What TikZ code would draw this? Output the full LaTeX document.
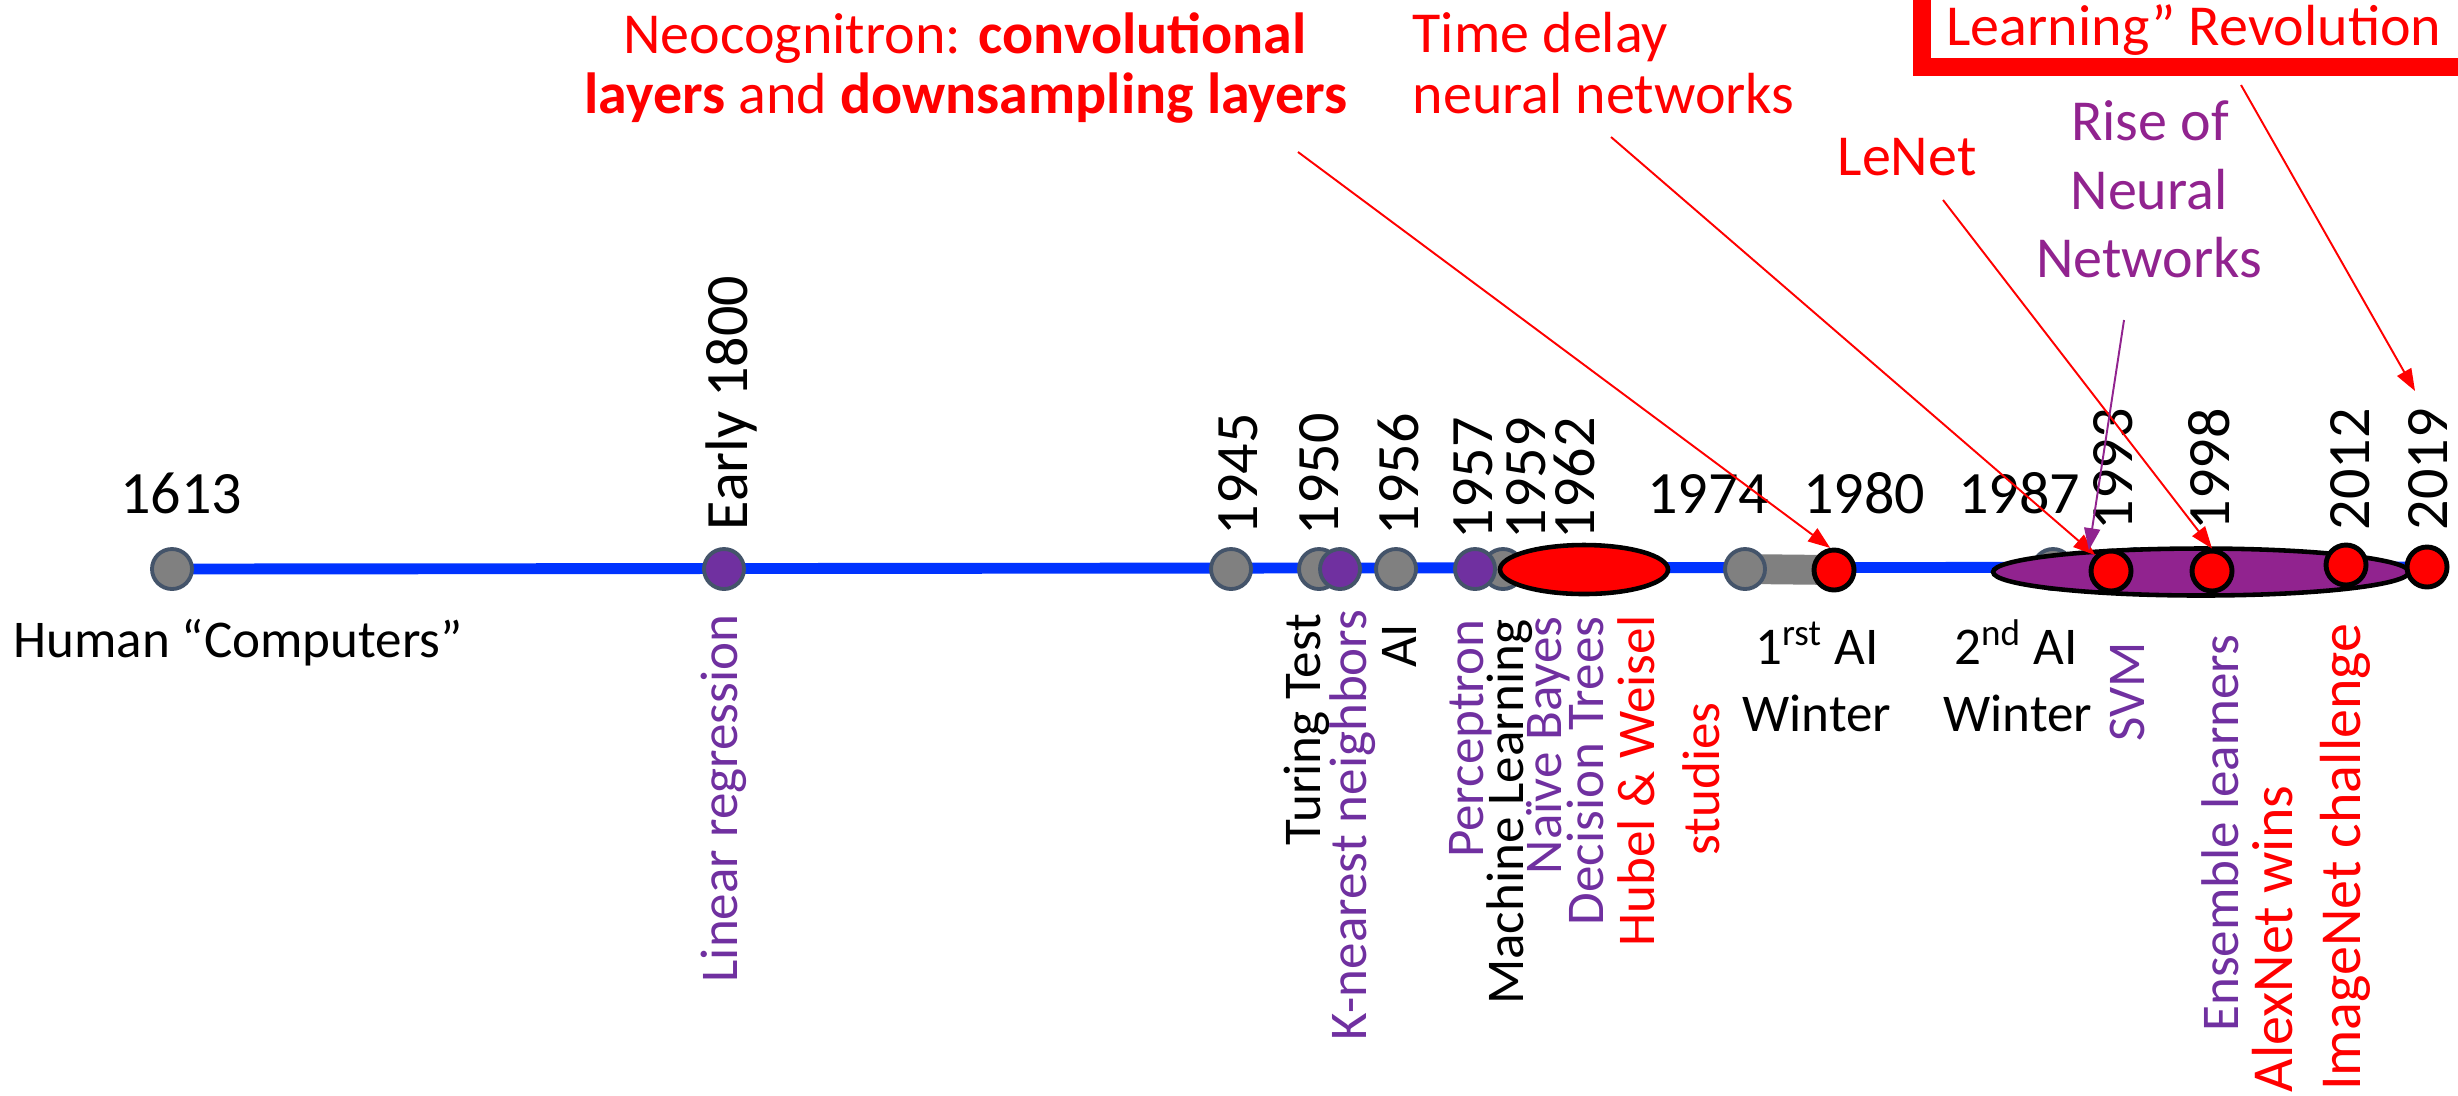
\documentclass[tikz,border=0pt]{standalone}
\usepackage{fontspec}
\setmainfont{Carlito}
\usetikzlibrary{arrows.meta,shapes.geometric}

\definecolor{lineblue}{RGB}{0,51,255}
\definecolor{dotgray}{RGB}{128,128,128}
\definecolor{rimslate}{RGB}{68,84,106}
\definecolor{mlpurple}{RGB}{112,48,160}
\definecolor{nnpurple}{RGB}{145,35,143}
\definecolor{hotred}{RGB}{255,0,0}

\newcommand\yearfont{\fontsize{17.1pt}{20pt}\selectfont}
\newcommand\labfont{\fontsize{15.1pt}{18pt}\selectfont}
\newcommand\biglabfont{\fontsize{16.5pt}{19pt}\selectfont}
\newcommand\topfont{\fontsize{16.5pt}{19pt}\selectfont}

\pgfdeclarelayer{paper}
\pgfdeclarelayer{under}
\pgfsetlayers{paper,under,main}

\tikzset{
  dot/.style={circle, minimum size=4mm, inner sep=0pt, line width=1.1pt, draw=rimslate},
  graydot/.style={dot, fill=dotgray},
  purpledot/.style={dot, fill=mlpurple},
  reddot/.style={circle, minimum size=4mm, inner sep=0pt, line width=1.4pt, draw=black, fill=hotred},
  era/.style={ellipse, inner sep=0pt, line width=1.3pt, draw=black},
  yearh/.style={inner sep=0pt, anchor=base, font=\yearfont},
  yearv/.style={inner sep=0pt, rotate=90, anchor=base west, font=\yearfont},
  lab/.style={inner sep=0pt, rotate=90, anchor=base east, font=\labfont},
  winter/.style={inner sep=0pt, anchor=base, font=\labfont},
  note/.style={inner sep=0pt, font=\topfont, text=hotred},
  pointer/.style={draw=hotred, line width=0.55pt, -{Triangle[length=2.2mm,width=1.6mm]}},
}

\begin{document}
\begin{tikzpicture}[x=0.1mm, y=-0.1mm]
\clip (0,0) rectangle (2458,1095);
\begin{pgfonlayer}{paper}
  \fill[white] (0,0) rectangle (2458,1095);
\end{pgfonlayer}

% ---- events on the time line ----
\node[graydot] (g1613) at (172,569) {};
\node[purpledot] (pEarly) at (724,569) {};
\node[graydot] (g1945) at (1231,569) {};
\node[graydot] (g1950) at (1319,569) {};
\node[purpledot] (pKnn) at (1340,569) {};
\node[graydot] (g1956) at (1396,569) {};
\node[graydot] (g1959) at (1503,569) {};
\node[purpledot] (pPerc) at (1475,569) {};
\node[graydot] (g1962) at (1540,569) {};
\node[era, fill=hotred, minimum width=16.8mm, minimum height=4.9mm] (hwEll) at (1584,569.5) {};
\node[graydot] (g1974) at (1745,569) {};
\node[reddot] (r1980) at (1834,570) {};
\node[graydot] (g1987) at (2053,569) {};
\node[graydot] (g1993) at (2135,569) {};
\node[graydot] (g1998) at (2250,569) {};
\node[era, fill=nnpurple, minimum width=41.6mm, minimum height=4.7mm] (nnEll) at (2201,572) {};
\node[reddot] (r1993) at (2111,571) {};
\node[reddot] (r1998) at (2212,571) {};
\node[reddot] (r2012) at (2346,565) {};
\node[reddot] (r2019) at (2427,567) {};

% time axis and the first AI winter bar, behind the dots
\begin{pgfonlayer}{under}
  \draw[lineblue, line width=3.1pt] (g1613.center) -- (r2019.center);
  \draw[dotgray, line width=8.5pt] (g1974.center) -- (r1980.center);
\end{pgfonlayer}

% ---- years ----
\node[yearh] (t1613) at (181,513) {1613};
\node[yearh] (t1974) at (1708,513) {1974};
\node[yearh] (t1980) at (1864,513) {1980};
\node[yearh] (t1987) at (2019,513) {1987};
\node[yearv] (tEarly) at (747,531) {Early 1800};
\node[yearv] (t1945) at (1257,536) {1945};
\node[yearv] (t1950) at (1338,536) {1950};
\node[yearv] (t1956) at (1418,536) {1956};
\node[yearv] (t1957) at (1492,540) {1957};
\node[yearv] (t1959) at (1545,540) {1959};
\node[yearv] (t1962) at (1594,540) {1962};
\node[yearv] (t1993) at (2132,531) {1993};
\node[yearv] (t1998) at (2229,531) {1998};
\node[yearv] (t2012) at (2369,531) {2012};
\node[yearv] (t2019) at (2447,531) {2019};

% ---- event labels ----
\node[winter] (lHuman) at (238,657) {Human “Computers”};
\node[lab, text=mlpurple] (lLin) at (737,614) {Linear regression};
\node[lab] (lTuring) at (1320,613) {Turing Test};
\node[lab, text=mlpurple] (lKnn) at (1366,609) {K-nearest neighbors};
\node[lab] (lAI) at (1416,623) {AI};
\node[lab, text=mlpurple] (lPerc) at (1483,619) {Perceptron};
\node[lab] (lML) at (1523,619) {Machine Learning};
\node[lab, text=mlpurple] (lNB) at (1561,616) {Naïve Bayes};
\node[lab, text=mlpurple] (lDT) at (1603,616) {Decision Trees};
\node[lab, text=hotred] (lHW) at (1654,615) {Hubel \& Weisel};
\node[inner sep=0pt, rotate=90, anchor=base, font=\labfont, text=hotred] (lStudies) at (1719,779) {studies};
\node[winter] (lW1a) at (1817,664) {1\textsuperscript{rst} AI};
\node[winter] (lW1b) at (1817,731) {Winter};
\node[winter] (lW2a) at (2016,664) {2\textsuperscript{nd} AI};
\node[winter] (lW2b) at (2018,731) {Winter};
\node[lab, text=mlpurple] (lSVM) at (2144,641) {SVM};
\node[lab, text=mlpurple] (lEns) at (2238,634) {Ensemble learners};
\node[lab, text=hotred, font=\biglabfont] (lAlex) at (2292,785) {AlexNet wins};
\node[lab, text=hotred, font=\biglabfont] (lImg) at (2360,623) {ImageNet challenge};

% ---- notes above the line ----
\node[note, anchor=base] (neoA) at (965,53) {Neocognitron: \textbf{convolutional}};
\node[note, anchor=base] (neoB) at (966,113) {\textbf{layers} and \textbf{downsampling layers}};
\node[note, anchor=base west] (tdA) at (1412,52) {Time delay};
\node[note, anchor=base west] (tdB) at (1412,113) {neural networks};
\node[note, anchor=base] (lenet) at (1907,175) {LeNet};
\node[note, anchor=base, text=nnpurple] (riseA) at (2150,140) {Rise of};
\node[note, anchor=base, text=nnpurple] (riseB) at (2149,209) {Neural};
\node[note, anchor=base, text=nnpurple] (riseC) at (2149,277) {Networks};
\node[draw=hotred, line width=5.1pt, minimum width=62mm, minimum height=14mm,
      anchor=south west, inner sep=0pt] (revBox) at (1913,76) {};
\node[note, anchor=base] (revText) at (2194,45) {Learning” Revolution};

% ---- pointers ----
\coordinate (neoFoot) at (1298,152);
\coordinate (tdFoot) at (1611,137);
\coordinate (lenetFoot) at (1943,200);
\coordinate (riseFoot) at (2124,320);
\coordinate (revFoot) at (2241,85);
\coordinate (revTip) at (2415,391);
\draw[pointer] (neoFoot) -- (r1980.100);
\draw[pointer] (tdFoot) -- (r1993.135);
\draw[pointer] (lenetFoot) -- (r1998.north);
\draw[pointer, draw=nnpurple] (riseFoot) -- (nnEll.169);
\draw[pointer] (revFoot) -- (revTip);
\end{tikzpicture}
\end{document}
